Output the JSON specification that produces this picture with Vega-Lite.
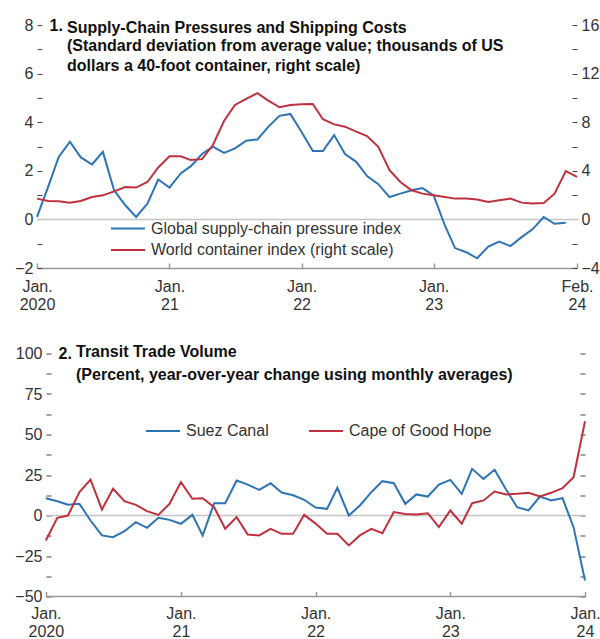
{
  "$schema": "https://vega.github.io/schema/vega-lite/v6.json",
  "background": "white",
  "padding": {"left": 14, "top": 17, "right": 0, "bottom": 0},
  "config": {
    "font": "Liberation Sans",
    "view": {"stroke": null},
    "axis": {"labelFontSize": 16, "labelColor": "#333333", "tickColor": "#444444", "grid": false, "labelFont": "Liberation Sans", "titleFont": "Liberation Sans"},
    "legend": {"labelFont": "Liberation Sans"},
    "title": {"font": "Liberation Sans", "subtitleFont": "Liberation Sans"}
  },
  "datasets": {
    "gscpi": [
      {"date": "2020-01-01", "value": 0.1}, {"date": "2020-02-01", "value": 1.35}, {"date": "2020-03-01", "value": 2.57}, {"date": "2020-04-01", "value": 3.2}, {"date": "2020-05-01", "value": 2.55}, {"date": "2020-06-01", "value": 2.26}, {"date": "2020-07-01", "value": 2.78}, {"date": "2020-08-01", "value": 1.2}, {"date": "2020-09-01", "value": 0.58}, {"date": "2020-10-01", "value": 0.1}, {"date": "2020-11-01", "value": 0.65}, {"date": "2020-12-01", "value": 1.64},
      {"date": "2021-01-01", "value": 1.31}, {"date": "2021-02-01", "value": 1.89}, {"date": "2021-03-01", "value": 2.19}, {"date": "2021-04-01", "value": 2.69}, {"date": "2021-05-01", "value": 2.99}, {"date": "2021-06-01", "value": 2.74}, {"date": "2021-07-01", "value": 2.92}, {"date": "2021-08-01", "value": 3.24}, {"date": "2021-09-01", "value": 3.29}, {"date": "2021-10-01", "value": 3.81}, {"date": "2021-11-01", "value": 4.26}, {"date": "2021-12-01", "value": 4.34},
      {"date": "2022-01-01", "value": 3.6}, {"date": "2022-02-01", "value": 2.81}, {"date": "2022-03-01", "value": 2.81}, {"date": "2022-04-01", "value": 3.47}, {"date": "2022-05-01", "value": 2.69}, {"date": "2022-06-01", "value": 2.37}, {"date": "2022-07-01", "value": 1.78}, {"date": "2022-08-01", "value": 1.45}, {"date": "2022-09-01", "value": 0.92}, {"date": "2022-10-01", "value": 1.06}, {"date": "2022-11-01", "value": 1.2}, {"date": "2022-12-01", "value": 1.29},
      {"date": "2023-01-01", "value": 0.99}, {"date": "2023-02-01", "value": -0.25}, {"date": "2023-03-01", "value": -1.18}, {"date": "2023-04-01", "value": -1.35}, {"date": "2023-05-01", "value": -1.6}, {"date": "2023-06-01", "value": -1.12}, {"date": "2023-07-01", "value": -0.91}, {"date": "2023-08-01", "value": -1.1}, {"date": "2023-09-01", "value": -0.73}, {"date": "2023-10-01", "value": -0.41}, {"date": "2023-11-01", "value": 0.1}, {"date": "2023-12-01", "value": -0.18},
      {"date": "2024-01-01", "value": -0.14}
    ],
    "wci": [
      {"date": "2020-01-01", "value": 1.71}, {"date": "2020-02-01", "value": 1.51}, {"date": "2020-03-01", "value": 1.49}, {"date": "2020-04-01", "value": 1.38}, {"date": "2020-05-01", "value": 1.51}, {"date": "2020-06-01", "value": 1.84}, {"date": "2020-07-01", "value": 1.98}, {"date": "2020-08-01", "value": 2.31}, {"date": "2020-09-01", "value": 2.67}, {"date": "2020-10-01", "value": 2.62}, {"date": "2020-11-01", "value": 3.08}, {"date": "2020-12-01", "value": 4.27},
      {"date": "2021-01-01", "value": 5.2}, {"date": "2021-02-01", "value": 5.2}, {"date": "2021-03-01", "value": 4.88}, {"date": "2021-04-01", "value": 4.96}, {"date": "2021-05-01", "value": 6.12}, {"date": "2021-06-01", "value": 8.12}, {"date": "2021-07-01", "value": 9.42}, {"date": "2021-08-01", "value": 9.92}, {"date": "2021-09-01", "value": 10.39}, {"date": "2021-10-01", "value": 9.78}, {"date": "2021-11-01", "value": 9.23}, {"date": "2021-12-01", "value": 9.42},
      {"date": "2022-01-01", "value": 9.48}, {"date": "2022-02-01", "value": 9.5}, {"date": "2022-03-01", "value": 8.24}, {"date": "2022-04-01", "value": 7.82}, {"date": "2022-05-01", "value": 7.63}, {"date": "2022-06-01", "value": 7.22}, {"date": "2022-07-01", "value": 6.86}, {"date": "2022-08-01", "value": 5.98}, {"date": "2022-09-01", "value": 4.05}, {"date": "2022-10-01", "value": 3.08}, {"date": "2022-11-01", "value": 2.4}, {"date": "2022-12-01", "value": 2.12},
      {"date": "2023-01-01", "value": 1.98}, {"date": "2023-02-01", "value": 1.84}, {"date": "2023-03-01", "value": 1.71}, {"date": "2023-04-01", "value": 1.71}, {"date": "2023-05-01", "value": 1.63}, {"date": "2023-06-01", "value": 1.43}, {"date": "2023-07-01", "value": 1.57}, {"date": "2023-08-01", "value": 1.71}, {"date": "2023-09-01", "value": 1.38}, {"date": "2023-10-01", "value": 1.3}, {"date": "2023-11-01", "value": 1.35}, {"date": "2023-12-01", "value": 2.12},
      {"date": "2024-01-01", "value": 3.97}, {"date": "2024-02-01", "value": 3.5}
    ],
    "suez": [
      {"date": "2020-01-01", "value": 10.7}, {"date": "2020-02-01", "value": 8.8}, {"date": "2020-03-01", "value": 6.6}, {"date": "2020-04-01", "value": 7.2}, {"date": "2020-05-01", "value": -3.1}, {"date": "2020-06-01", "value": -12.3}, {"date": "2020-07-01", "value": -13.4}, {"date": "2020-08-01", "value": -9.7}, {"date": "2020-09-01", "value": -4.1}, {"date": "2020-10-01", "value": -7.6}, {"date": "2020-11-01", "value": -1.4}, {"date": "2020-12-01", "value": -2.7},
      {"date": "2021-01-01", "value": -5.1}, {"date": "2021-02-01", "value": 0.4}, {"date": "2021-03-01", "value": -12.3}, {"date": "2021-04-01", "value": 7.6}, {"date": "2021-05-01", "value": 7.6}, {"date": "2021-06-01", "value": 21.6}, {"date": "2021-07-01", "value": 19.1}, {"date": "2021-08-01", "value": 15.8}, {"date": "2021-09-01", "value": 19.9}, {"date": "2021-10-01", "value": 14.2}, {"date": "2021-11-01", "value": 12.5}, {"date": "2021-12-01", "value": 9.7},
      {"date": "2022-01-01", "value": 4.9}, {"date": "2022-02-01", "value": 4.1}, {"date": "2022-03-01", "value": 17.1}, {"date": "2022-04-01", "value": 0}, {"date": "2022-05-01", "value": 6.2}, {"date": "2022-06-01", "value": 14.4}, {"date": "2022-07-01", "value": 21.2}, {"date": "2022-08-01", "value": 19.9}, {"date": "2022-09-01", "value": 7.2}, {"date": "2022-10-01", "value": 13}, {"date": "2022-11-01", "value": 11.7}, {"date": "2022-12-01", "value": 19.1},
      {"date": "2023-01-01", "value": 22}, {"date": "2023-02-01", "value": 13.4}, {"date": "2023-03-01", "value": 28.8}, {"date": "2023-04-01", "value": 22.6}, {"date": "2023-05-01", "value": 28.2}, {"date": "2023-06-01", "value": 16}, {"date": "2023-07-01", "value": 5.1}, {"date": "2023-08-01", "value": 3.1}, {"date": "2023-09-01", "value": 11.7}, {"date": "2023-10-01", "value": 9.3}, {"date": "2023-11-01", "value": 10.7}, {"date": "2023-12-01", "value": -7.2},
      {"date": "2024-01-01", "value": -40.1}
    ],
    "cape": [
      {"date": "2020-01-01", "value": -15.4}, {"date": "2020-02-01", "value": -1.4}, {"date": "2020-03-01", "value": 0}, {"date": "2020-04-01", "value": 14.4}, {"date": "2020-05-01", "value": 22.2}, {"date": "2020-06-01", "value": 3.7}, {"date": "2020-07-01", "value": 16.5}, {"date": "2020-08-01", "value": 8.8}, {"date": "2020-09-01", "value": 6.6}, {"date": "2020-10-01", "value": 2.7}, {"date": "2020-11-01", "value": 0.4}, {"date": "2020-12-01", "value": 7.2},
      {"date": "2021-01-01", "value": 20.6}, {"date": "2021-02-01", "value": 10.3}, {"date": "2021-03-01", "value": 10.7}, {"date": "2021-04-01", "value": 5.1}, {"date": "2021-05-01", "value": -8.2}, {"date": "2021-06-01", "value": -1}, {"date": "2021-07-01", "value": -11.7}, {"date": "2021-08-01", "value": -12.3}, {"date": "2021-09-01", "value": -8.2}, {"date": "2021-10-01", "value": -11.3}, {"date": "2021-11-01", "value": -11.3}, {"date": "2021-12-01", "value": 0.4},
      {"date": "2022-01-01", "value": -5}, {"date": "2022-02-01", "value": -11.3}, {"date": "2022-03-01", "value": -11.3}, {"date": "2022-04-01", "value": -18.5}, {"date": "2022-05-01", "value": -12.3}, {"date": "2022-06-01", "value": -8.2}, {"date": "2022-07-01", "value": -10.9}, {"date": "2022-08-01", "value": 2.1}, {"date": "2022-09-01", "value": 1}, {"date": "2022-10-01", "value": 0.6}, {"date": "2022-11-01", "value": 1.4}, {"date": "2022-12-01", "value": -7.2},
      {"date": "2023-01-01", "value": 3.1}, {"date": "2023-02-01", "value": -5.1}, {"date": "2023-03-01", "value": 7.6}, {"date": "2023-04-01", "value": 9.3}, {"date": "2023-05-01", "value": 14.8}, {"date": "2023-06-01", "value": 13}, {"date": "2023-07-01", "value": 13.4}, {"date": "2023-08-01", "value": 14}, {"date": "2023-09-01", "value": 11.7}, {"date": "2023-10-01", "value": 14}, {"date": "2023-11-01", "value": 16.9}, {"date": "2023-12-01", "value": 23.6},
      {"date": "2024-01-01", "value": 58.2}
    ]
  },
  "columns": 1,
  "bounds": "full",
  "spacing": 31.5,
  "resolve": {"scale": {"color": "independent"}, "legend": {"color": "independent"}},
  "concat": [
    {
      "width": 540,
      "height": 243,
      "title": {
        "text": "Supply-Chain Pressures and Shipping Costs",
        "subtitle": ["(Standard deviation from average value; thousands of US", "dollars a 40-foot container, right scale)"],
        "anchor": "start", "frame": "group", "dx": 30, "offset": -57,
        "fontSize": 16, "fontWeight": "bold", "color": "#111111",
        "subtitleFontSize": 16, "subtitleFontWeight": "bold", "subtitleColor": "#111111",
        "subtitlePadding": 2, "subtitleLineHeight": 20
      },
      "layer": [
        {
          "data": {"values": [{}]},
          "mark": {"type": "rule", "color": "#c4c4c4", "strokeWidth": 1.5},
          "encoding": {"y": {"datum": 0, "type": "quantitative", "scale": {"domain": [-2, 8]}, "axis": null}}
        },
        {
          "data": {"name": "gscpi"},
          "mark": {"type": "line", "strokeWidth": 2},
          "encoding": {
            "x": {"field": "date", "type": "temporal",
              "scale": {"type": "utc", "domain": [{"year": 2020, "month": 1, "date": 1, "utc": true}, {"year": 2024, "month": 2, "date": 1, "utc": true}]},
              "axis": {"title": null,
                "values": [{"year": 2020, "month": 1, "date": 1, "utc": true}, {"year": 2021, "month": 1, "date": 1, "utc": true}, {"year": 2022, "month": 1, "date": 1, "utc": true}, {"year": 2023, "month": 1, "date": 1, "utc": true}, {"year": 2024, "month": 2, "date": 1, "utc": true}],
                "labelExpr": "[utcFormat(datum.value, '%b') + '.', utcyear(datum.value) == 2020 ? '2020' : utcFormat(datum.value, '%y')]",
                "tickSize": -5, "labelPadding": 15, "domainColor": "#999999", "domainWidth": 1.5, "tickColor": "#999999", "tickWidth": 1.5,
                "labelLineHeight": 18, "labelFlush": false, "labelOverlap": false, "labelAlign": "center"}},
            "y": {"field": "value", "type": "quantitative", "scale": {"domain": [-2, 8]},
              "axis": {"orient": "left", "values": [-2, -1, 0, 1, 2, 3, 4, 5, 6, 7, 8],
                "labelExpr": "datum.value % 2 == 0 ? datum.label : ''",
                "domain": false, "tickSize": -5, "labelPadding": 9,
                "title": "1.", "titleAngle": 0, "titleX": 12, "titleY": 5.5, "titleAlign": "left", "titleBaseline": "alphabetic",
                "titleFontSize": 16, "titleFontWeight": "bold", "titleColor": "#111111"}},
            "color": {"datum": "Global supply-chain pressure index", "type": "nominal",
              "scale": {"domain": ["Global supply-chain pressure index", "World container index (right scale)"], "range": ["#2e74b5", "#c0313f"]},
              "legend": {"orient": "none", "legendX": 81.5, "legendY": 194, "title": null, "direction": "vertical",
                "symbolType": "M-2,0H2", "symbolSize": 289, "symbolStrokeWidth": 2, "labelFontSize": 16, "labelColor": "#333333",
                "rowPadding": 3.5, "labelOffset": 13.5, "padding": 0, "labelLimit": 400}}
          }
        },
        {
          "data": {"name": "wci"},
          "mark": {"type": "line", "strokeWidth": 2},
          "encoding": {
            "x": {"field": "date", "type": "temporal",
              "scale": {"type": "utc", "domain": [{"year": 2020, "month": 1, "date": 1, "utc": true}, {"year": 2024, "month": 2, "date": 1, "utc": true}]}},
            "y": {"field": "value", "type": "quantitative", "scale": {"domain": [-4, 16]},
              "axis": {"orient": "right", "values": [-4, -2, 0, 2, 4, 6, 8, 10, 12, 14, 16],
                "labelExpr": "datum.value % 4 == 0 ? datum.label : ''",
                "domain": false, "tickSize": -5, "labelPadding": 9, "title": null}},
            "color": {"datum": "World container index (right scale)", "type": "nominal"}
          }
        }
      ],
      "resolve": {"scale": {"y": "independent"}}
    },
    {
      "width": 548,
      "height": 243,
      "title": {
        "text": "Transit Trade Volume",
        "subtitle": ["(Percent, year-over-year change using monthly averages)"],
        "anchor": "start", "frame": "group", "dx": 39, "offset": -37.5,
        "fontSize": 16, "fontWeight": "bold", "color": "#111111",
        "subtitleFontSize": 16, "subtitleFontWeight": "bold", "subtitleColor": "#111111",
        "subtitlePadding": 6.5, "subtitleLineHeight": 20.5
      },
      "layer": [
        {
          "data": {"values": [{}]},
          "mark": {"type": "rule", "color": "#c4c4c4", "strokeWidth": 1.5},
          "encoding": {
            "x": {"datum": {"year": 2020, "month": 1, "date": 1, "utc": true}, "type": "temporal"},
            "x2": {"datum": {"year": 2024, "month": 1, "date": 1, "utc": true}},
            "y": {"datum": 0, "type": "quantitative", "scale": {"domain": [-50, 100]}, "axis": null}}
        },
        {
          "data": {"values": [{}]},
          "mark": {"type": "rule", "color": "#999999", "strokeWidth": 1.5},
          "encoding": {
            "x": {"datum": {"year": 2020, "month": 1, "date": 1, "utc": true}, "type": "temporal"},
            "x2": {"datum": {"year": 2024, "month": 1, "date": 1, "utc": true}},
            "y": {"datum": -50, "type": "quantitative", "scale": {"domain": [-50, 100]}, "axis": null}}
        },
        {
          "data": {"name": "suez"},
          "mark": {"type": "line", "strokeWidth": 2},
          "encoding": {
            "x": {"field": "date", "type": "temporal",
              "scale": {"type": "utc", "domain": [{"year": 2019, "month": 12, "date": 8, "utc": true}, {"year": 2024, "month": 1, "date": 1, "utc": true}]},
              "axis": {"title": null,
                "values": [{"year": 2020, "month": 1, "date": 1, "utc": true}, {"year": 2021, "month": 1, "date": 1, "utc": true}, {"year": 2022, "month": 1, "date": 1, "utc": true}, {"year": 2023, "month": 1, "date": 1, "utc": true}, {"year": 2024, "month": 1, "date": 1, "utc": true}],
                "labelExpr": "[utcFormat(datum.value, '%b') + '.', utcyear(datum.value) == 2020 ? '2020' : utcFormat(datum.value, '%y')]",
                "domain": false, "tickSize": -5, "labelPadding": 13.5, "tickColor": "#999999", "tickWidth": 1.5,
                "labelLineHeight": 18, "labelFlush": false, "labelOverlap": false, "labelAlign": "center"}},
            "y": {"field": "value", "type": "quantitative", "scale": {"domain": [-50, 100]},
              "axis": {"orient": "left", "offset": -9, "values": [-50, -37.5, -25, -12.5, 0, 12.5, 25, 37.5, 50, 62.5, 75, 87.5, 100],
                "format": "d",
                "labelExpr": "datum.value % 25 == 0 ? datum.label : ''",
                "domain": false, "tickSize": -5, "labelPadding": 9,
                "title": "2.", "titleAngle": 0, "titleX": 12, "titleY": 4.5, "titleAlign": "left", "titleBaseline": "alphabetic",
                "titleFontSize": 16, "titleFontWeight": "bold", "titleColor": "#111111"}},
            "color": {"datum": "Suez Canal", "type": "nominal",
              "scale": {"domain": ["Suez Canal", "Cape of Good Hope"], "range": ["#2e74b5", "#c0313f"]},
              "legend": {"orient": "none", "legendX": 108, "legendY": 59.5, "title": null, "direction": "horizontal",
                "symbolType": "stroke", "symbolSize": 1156, "symbolStrokeWidth": 2, "labelFontSize": 16, "labelColor": "#333333",
                "columnPadding": 36, "labelOffset": 5, "padding": 0, "labelLimit": 400}}
          }
        },
        {
          "data": {"name": "cape"},
          "mark": {"type": "line", "strokeWidth": 2},
          "encoding": {
            "x": {"field": "date", "type": "temporal",
              "scale": {"type": "utc", "domain": [{"year": 2019, "month": 12, "date": 8, "utc": true}, {"year": 2024, "month": 1, "date": 1, "utc": true}]}},
            "y": {"field": "value", "type": "quantitative", "scale": {"domain": [-50, 100]},
              "axis": {"orient": "right", "values": [-50, -37.5, -25, -12.5, 0, 12.5, 25, 37.5, 50, 62.5, 75, 87.5, 100],
                "labels": false, "domain": false, "tickSize": -5, "title": null}},
            "color": {"datum": "Cape of Good Hope", "type": "nominal"}
          }
        }
      ],
      "resolve": {"scale": {"y": "independent"}}
    }
  ]
}
